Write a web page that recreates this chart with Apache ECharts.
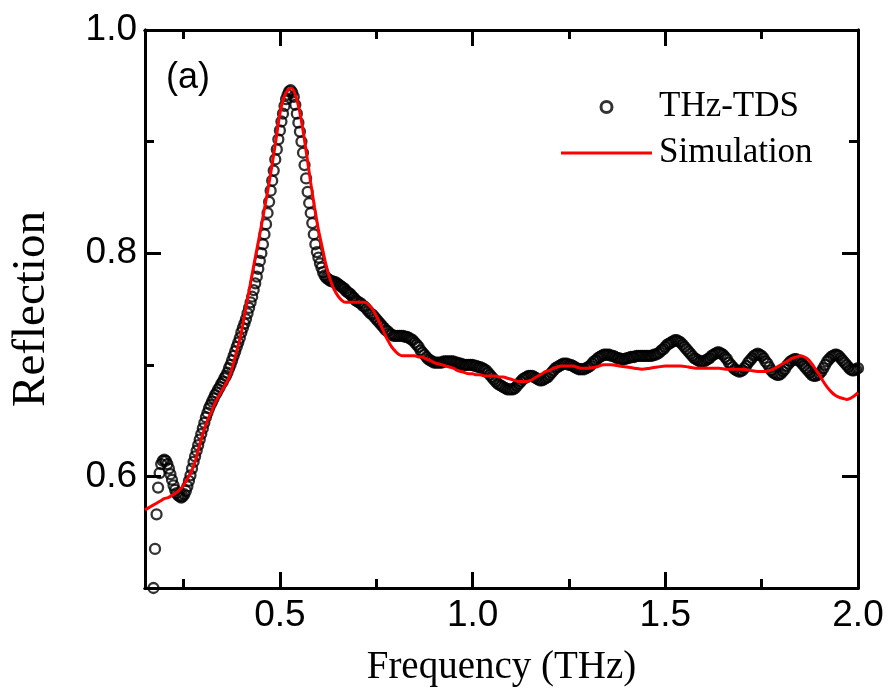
<!DOCTYPE html>
<html>
<head>
<meta charset="utf-8">
<script src="https://cdn.jsdelivr.net/npm/echarts@6/dist/echarts.min.js"></script>
<style>html,body{margin:0;padding:0;background:#fff;}#c{width:890px;height:699px;}</style>
</head>
<body>
<div id="c"></div>
<script>
// ---- data ----
const tdsFreq = [
0.172,0.176,0.180,0.184,0.188,0.192,0.196,0.200,0.204,0.208,0.212,0.216,0.220,0.224,0.228,0.232,0.236,0.240,0.244,0.248,
0.252,0.256,0.260,0.264,0.268,0.272,0.276,0.280,0.284,0.288,0.292,0.296,0.300,0.304,0.308,0.312,0.316,0.320,0.324,0.328,
0.332,0.336,0.340,0.344,0.348,0.352,0.356,0.360,0.364,0.368,0.372,0.376,0.380,0.384,0.388,0.392,0.396,0.400,0.404,0.408,
0.412,0.416,0.420,0.424,0.428,0.432,0.436,0.440,0.444,0.448,0.452,0.456,0.460,0.464,0.468,0.472,0.476,0.480,0.484,0.488,
0.492,0.496,0.500,0.504,0.508,0.512,0.516,0.520,0.524,0.528,0.532,0.536,0.540,0.544,0.548,0.552,0.556,0.560,0.564,0.568,
0.572,0.576,0.580,0.584,0.588,0.592,0.596,0.600,0.604,0.608,0.612,0.616,0.620,0.624,0.628,0.632,0.636,0.640,0.644,0.648,
0.652,0.656,0.660,0.664,0.668,0.672,0.676,0.680,0.684,0.688,0.692,0.696,0.700,
0.705,0.710,0.715,0.720,0.725,0.730,0.735,0.740,0.745,0.750,0.755,0.760,0.765,0.770,0.775,0.780,0.785,0.790,0.795,0.800,
0.805,0.810,0.815,0.820,0.825,0.830,0.835,0.840,0.845,0.850,0.855,0.860,0.865,0.870,0.875,0.880,0.885,0.890,0.895,0.900,
0.905,0.910,0.915,0.920,0.925,0.930,0.935,0.940,0.945,0.950,0.955,0.960,0.965,0.970,0.975,0.980,0.985,0.990,0.995,1.000,
1.005,1.010,1.015,1.020,1.025,1.030,1.035,1.040,1.045,1.050,1.055,1.060,1.065,1.070,1.075,1.080,1.085,1.090,1.095,1.100,
1.105,1.110,1.115,1.120,1.125,1.130,1.135,1.140,1.145,1.150,1.155,1.160,1.165,1.170,1.175,1.180,1.185,1.190,1.195,1.200,
1.205,1.210,1.215,1.220,1.225,1.230,1.235,1.240,1.245,1.250,1.255,1.260,1.265,1.270,1.275,1.280,1.285,1.290,1.295,1.300,
1.305,1.310,1.315,1.320,1.325,1.330,1.335,1.340,1.345,1.350,1.355,1.360,1.365,1.370,1.375,1.380,1.385,1.390,1.395,1.400,
1.405,1.410,1.415,1.420,1.425,1.430,1.435,1.440,1.445,1.450,1.455,1.460,1.465,1.470,1.475,1.480,1.485,1.490,1.495,1.500,
1.505,1.510,1.515,1.520,1.525,1.530,1.535,1.540,1.545,1.550,1.555,1.560,1.565,1.570,1.575,1.580,1.585,1.590,1.595,1.600,
1.605,1.610,1.615,1.620,1.625,1.630,1.635,1.640,1.645,1.650,1.655,1.660,1.665,1.670,1.675,1.680,1.685,1.690,1.695,1.700,
1.705,1.710,1.715,1.720,1.725,1.730,1.735,1.740,1.745,1.750,1.755,1.760,1.765,1.770,1.775,1.780,1.785,1.790,1.795,1.800,
1.805,1.810,1.815,1.820,1.825,1.830,1.835,1.840,1.845,1.850,1.855,1.860,1.865,1.870,1.875,1.880,1.885,1.890,1.895,1.900,
1.905,1.910,1.915,1.920,1.925,1.930,1.935,1.940,1.945,1.950,1.955,1.960,1.965,1.970,1.975,1.980,1.985,1.990,1.995,2.000
];
const tdsRefl = [
0.500,0.535,0.566,0.590,0.603,0.611,0.614,0.615,0.614,0.611,0.607,0.602,0.597,0.592,0.588,0.585,0.583,0.582,0.581,0.582,
0.584,0.587,0.591,0.596,0.601,0.607,0.613,0.618,0.623,0.628,0.633,0.638,0.643,0.648,0.653,0.657,0.661,0.664,0.667,0.670,
0.673,0.675,0.678,0.680,0.683,0.685,0.688,0.690,0.693,0.697,0.700,0.704,0.708,0.712,0.716,0.720,0.724,0.729,0.733,0.737,
0.741,0.746,0.751,0.756,0.761,0.767,0.773,0.779,0.786,0.793,0.800,0.808,0.817,0.826,0.836,0.846,0.856,0.865,0.874,0.884,
0.893,0.902,0.910,0.918,0.925,0.932,0.938,0.942,0.945,0.946,0.944,0.940,0.933,0.925,0.917,0.909,0.900,0.890,0.879,0.867,
0.855,0.845,0.836,0.827,0.817,0.808,0.801,0.796,0.791,0.787,0.783,0.780,0.778,0.777,0.776,0.775,0.775,0.774,0.774,0.773,
0.772,0.771,0.770,0.769,0.768,0.766,0.765,0.764,0.763,0.761,0.760,0.758,0.757,
0.756,0.755,0.753,0.752,0.750,0.748,0.746,0.745,0.743,0.741,0.739,0.737,0.735,0.733,0.731,0.730,0.728,0.727,0.726,0.726,
0.726,0.726,0.726,0.726,0.725,0.725,0.724,0.723,0.722,0.720,0.718,0.716,0.713,0.711,0.709,0.707,0.705,0.704,0.703,0.702,
0.702,0.702,0.702,0.702,0.703,0.703,0.703,0.703,0.703,0.703,0.702,0.702,0.701,0.701,0.700,0.700,0.700,0.700,0.700,0.700,
0.699,0.699,0.698,0.698,0.697,0.696,0.695,0.693,0.691,0.689,0.687,0.685,0.683,0.682,0.681,0.680,0.679,0.678,0.678,0.678,
0.678,0.679,0.681,0.683,0.685,0.687,0.688,0.689,0.690,0.690,0.690,0.689,0.688,0.687,0.686,0.686,0.687,0.688,0.689,0.691,
0.693,0.695,0.697,0.698,0.699,0.700,0.701,0.701,0.701,0.700,0.700,0.699,0.698,0.697,0.696,0.696,0.696,0.696,0.697,0.698,
0.699,0.701,0.703,0.704,0.706,0.707,0.708,0.709,0.709,0.709,0.709,0.708,0.708,0.707,0.706,0.706,0.705,0.705,0.705,0.706,
0.706,0.707,0.707,0.707,0.708,0.708,0.708,0.708,0.708,0.708,0.708,0.708,0.708,0.709,0.709,0.710,0.711,0.713,0.714,0.716,
0.718,0.719,0.720,0.721,0.722,0.722,0.721,0.720,0.718,0.716,0.714,0.712,0.710,0.708,0.706,0.705,0.704,0.703,0.703,0.703,
0.704,0.705,0.706,0.708,0.709,0.710,0.711,0.711,0.710,0.709,0.707,0.705,0.702,0.700,0.698,0.696,0.695,0.694,0.694,0.695,
0.697,0.699,0.702,0.704,0.706,0.708,0.709,0.710,0.709,0.708,0.706,0.703,0.701,0.698,0.695,0.693,0.692,0.691,0.691,0.692,
0.694,0.696,0.699,0.701,0.703,0.704,0.705,0.705,0.704,0.703,0.701,0.699,0.697,0.695,0.693,0.691,0.690,0.690,0.691,0.692,
0.694,0.697,0.700,0.703,0.705,0.707,0.708,0.709,0.709,0.708,0.706,0.704,0.702,0.700,0.698,0.696,0.695,0.695,0.696,0.697
];
const simFreq = [
0.15,0.16,0.17,0.18,0.19,0.20,0.21,0.22,0.23,0.24,0.25,0.26,0.27,0.28,0.29,0.30,0.31,0.32,0.33,0.34,
0.35,0.36,0.37,0.38,0.39,0.40,0.41,0.42,0.43,0.44,0.45,0.46,0.47,0.48,0.49,0.50,0.51,0.52,0.53,0.54,
0.55,0.56,0.57,0.58,0.59,0.60,0.61,0.62,0.63,0.64,0.65,0.66,0.67,0.68,0.69,0.70,0.71,0.72,0.73,0.74,
0.75,0.76,0.77,0.78,0.79,0.80,0.81,0.82,0.83,0.84,0.85,0.86,0.87,0.88,0.89,0.90,0.91,0.92,0.93,0.94,
0.95,0.96,0.97,0.98,0.99,1.00,1.01,1.02,1.03,1.04,1.05,1.06,1.07,1.08,1.09,1.10,1.11,1.12,1.13,1.14,
1.15,1.16,1.17,1.18,1.19,1.20,1.21,1.22,1.23,1.24,1.25,1.26,1.27,1.28,1.29,1.30,1.32,1.34,1.36,1.38,
1.40,1.42,1.44,1.46,1.48,1.50,1.52,1.54,1.56,1.58,1.60,1.62,1.64,1.66,1.68,1.70,1.72,1.74,1.76,1.78,
1.79,1.80,1.81,1.82,1.83,1.84,1.85,1.86,1.87,1.88,1.89,1.90,1.91,1.92,1.93,1.94,1.95,1.96,1.97,1.98,
1.99,2.00
];
const simRefl = [
0.570,0.572,0.574,0.576,0.578,0.580,0.581,0.583,0.585,0.588,0.592,0.598,0.604,0.613,0.626,0.638,0.648,0.656,0.664,0.671,
0.677,0.683,0.690,0.702,0.715,0.729,0.748,0.766,0.785,0.803,0.821,0.840,0.859,0.880,0.902,0.925,0.939,0.946,0.948,0.942,
0.929,0.910,0.887,0.863,0.841,0.821,0.805,0.789,0.777,0.768,0.762,0.758,0.756,0.756,0.756,0.756,0.756,0.756,0.754,0.750,
0.744,0.737,0.729,0.722,0.716,0.712,0.709,0.708,0.708,0.708,0.708,0.707,0.707,0.705,0.704,0.702,0.701,0.700,0.699,0.698,
0.697,0.695,0.694,0.693,0.692,0.692,0.691,0.691,0.690,0.690,0.690,0.690,0.689,0.689,0.688,0.687,0.686,0.685,0.685,0.685,
0.686,0.688,0.690,0.692,0.694,0.695,0.697,0.698,0.699,0.699,0.699,0.699,0.698,0.697,0.697,0.697,0.698,0.700,0.700,0.699,
0.698,0.697,0.696,0.697,0.698,0.699,0.699,0.699,0.698,0.697,0.697,0.697,0.697,0.696,0.696,0.696,0.695,0.694,0.694,0.696,
0.698,0.700,0.702,0.704,0.706,0.707,0.708,0.707,0.705,0.701,0.696,0.691,0.685,0.680,0.676,0.673,0.671,0.670,0.669,0.670,
0.672,0.675
];
const xMajor = [0.5, 1.0, 1.5, 2.0];
const xMinor = [0.25, 0.75, 1.25, 1.75];
const yMajor = [0.6, 0.8, 1.0];
const yMinor = [0.5, 0.7, 0.9];
const xRange = [0.15, 2.0];
const yRange = [0.5, 1.0];

const tdsData = tdsFreq.map((f, i) => [f, tdsRefl[i]]);
const simData = simFreq.map((f, i) => [f, simRefl[i]]);

const lineSty = {color: '#000', width: 3};
function xAx(pos, ticks, len, labels) {
  return {
    type: 'value', position: pos, min: xRange[0], max: xRange[1],
    axisLine: {show: true, onZero: false, lineStyle: lineSty},
    axisTick: {show: true, inside: true, length: len, customValues: ticks, lineStyle: lineSty},
    axisLabel: labels ? {show: true, customValues: ticks, formatter: v => v.toFixed(1),
      fontSize: 37, color: '#000', fontFamily: 'Liberation Sans', margin: 9} : {show: false},
    splitLine: {show: false}
  };
}
function yAx(pos, ticks, len, labels) {
  return {
    type: 'value', position: pos, min: yRange[0], max: yRange[1],
    axisLine: {show: true, onZero: false, lineStyle: lineSty},
    axisTick: {show: true, inside: true, length: len, customValues: ticks, lineStyle: lineSty},
    axisLabel: labels ? {show: true, customValues: ticks, formatter: v => v.toFixed(1),
      fontSize: 37, color: '#000', fontFamily: 'Liberation Sans', margin: 8} : {show: false},
    splitLine: {show: false}
  };
}
const xMain = xAx('bottom', xMajor, 16, true);
xMain.name = 'Frequency (THz)';
xMain.nameLocation = 'middle';
xMain.nameGap = 60;
xMain.nameTextStyle = {fontFamily: 'Liberation Serif', fontSize: 39, color: '#000'};
const yMain = yAx('left', yMajor, 16, true);
yMain.name = 'Reflection';
yMain.nameLocation = 'middle';
yMain.nameRotate = 90;
yMain.nameGap = 90;
yMain.nameTextStyle = {fontFamily: 'Liberation Serif', fontSize: 47, color: '#000'};

const chart = echarts.init(document.getElementById('c'), null, {renderer: 'canvas'});
chart.setOption({
  backgroundColor: '#fff',
  animation: false,
  grid: {left: 138, right: 32, top: 30, bottom: 111, containLabel: false},
  xAxis: [xMain, xAx('bottom', xMinor, 9, false), xAx('top', xMajor, 16, false), xAx('top', xMinor, 9, false)],
  yAxis: [yMain, yAx('left', yMinor, 9, false), yAx('right', yMajor, 16, false), yAx('right', yMinor, 9, false)],
  legend: {
    orient: 'vertical', left: 556, top: 84, itemWidth: 91, itemHeight: 11, itemGap: 10,
    textStyle: {fontFamily: 'Liberation Serif', fontSize: 35, lineHeight: 36, color: '#000', padding: [0, 0, 0, 2]},
    data: [
      {name: 'THz-TDS', icon: 'circle', itemStyle: {color: '#fff', borderColor: '#000', borderWidth: 3}},
      {name: 'Simulation', icon: 'path://M0 0H85V3H0Z', itemStyle: {color: '#ff0000'}}
    ]
  },
  graphic: [{type: 'text', left: 166, top: 60, style: {text: '(a)', fontSize: 36, fontFamily: 'Liberation Sans', fill: '#000'}}],
  series: [
    {name: 'THz-TDS', type: 'scatter', xAxisIndex: 0, yAxisIndex: 0, data: tdsData,
      symbol: 'circle', symbolSize: 10,
      itemStyle: {color: 'rgba(255,255,255,0)', borderColor: '#000', borderWidth: 2.3}, z: 2},
    {name: 'Simulation', type: 'line', xAxisIndex: 0, yAxisIndex: 0, data: simData,
      showSymbol: false, symbol: 'none', smooth: 0.3,
      lineStyle: {color: '#ff0000', width: 3}, itemStyle: {color: '#ff0000'}, z: 3}
  ]
});
</script>
</body>
</html>
